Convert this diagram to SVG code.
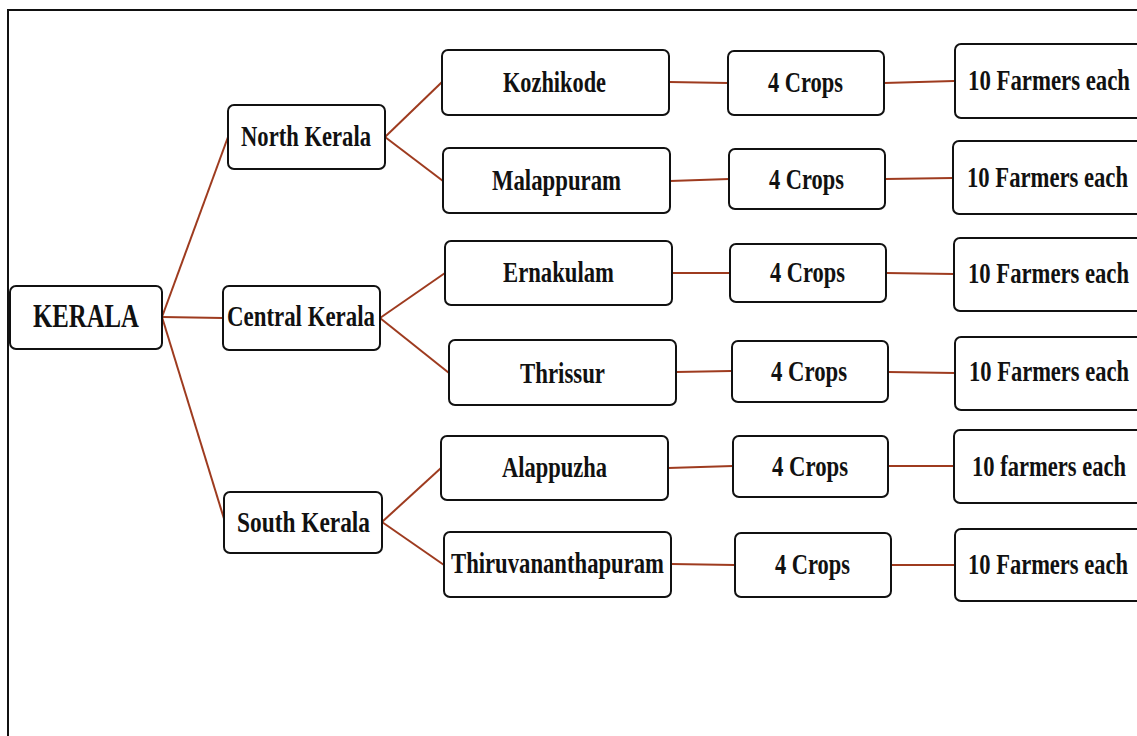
<svg xmlns="http://www.w3.org/2000/svg" width="1137" height="736" viewBox="0 0 1137 736">
<style>
.b{fill:#fff;stroke:#111;stroke-width:2}
.t{font-family:"Liberation Serif","Times New Roman",serif;font-weight:bold;font-size:29px;fill:#111}
.k{font-size:33px}
#connectors line{stroke:#9e3b1f;stroke-width:2}
</style>
<rect x="0" y="0" width="1137" height="736" fill="#fff"/>
<rect x="8" y="10" width="1140" height="740" fill="none" stroke="#111" stroke-width="2"/>
<g id="connectors">
<line x1="162" y1="317" x2="228" y2="137"/>
<line x1="162" y1="317" x2="223" y2="318"/>
<line x1="162" y1="317" x2="225" y2="522"/>
<line x1="385" y1="137" x2="442" y2="82"/>
<line x1="385" y1="137" x2="443" y2="181"/>
<line x1="380" y1="318" x2="445" y2="273"/>
<line x1="380" y1="318" x2="449" y2="373"/>
<line x1="382" y1="522" x2="441" y2="468"/>
<line x1="382" y1="522" x2="444" y2="565"/>
<line x1="669" y1="82" x2="728" y2="83"/>
<line x1="884" y1="83" x2="954" y2="81"/>
<line x1="670" y1="181" x2="729" y2="179"/>
<line x1="885" y1="179" x2="953" y2="178"/>
<line x1="672" y1="273" x2="730" y2="273"/>
<line x1="886" y1="273" x2="954" y2="274"/>
<line x1="676" y1="372" x2="731" y2="371"/>
<line x1="888" y1="372" x2="955" y2="373"/>
<line x1="668" y1="468" x2="733" y2="466"/>
<line x1="888" y1="466" x2="954" y2="466"/>
<line x1="671" y1="564" x2="735" y2="565"/>
<line x1="891" y1="565" x2="955" y2="565"/>
</g>
<g id="kerala"><rect class="b" x="10" y="286" width="152" height="63" rx="6"/><text class="t k" x="33" y="327" textLength="106" lengthAdjust="spacingAndGlyphs">KERALA</text></g>
<g id="north"><rect class="b" x="228" y="105" width="157" height="64" rx="6"/><text class="t" x="241" y="146" textLength="130" lengthAdjust="spacingAndGlyphs">North Kerala</text></g>
<g id="central"><rect class="b" x="223" y="286" width="157" height="64" rx="6"/><text class="t" x="227" y="326" textLength="148" lengthAdjust="spacingAndGlyphs">Central Kerala</text></g>
<g id="south"><rect class="b" x="224" y="492" width="158" height="61" rx="6"/><text class="t" x="237" y="532" textLength="133" lengthAdjust="spacingAndGlyphs">South Kerala</text></g>
<g id="kozhikode"><rect class="b" x="442" y="50" width="227" height="65" rx="6"/><text class="t" x="503" y="92" textLength="103" lengthAdjust="spacingAndGlyphs">Kozhikode</text></g>
<g id="malappuram"><rect class="b" x="443" y="148" width="227" height="65" rx="6"/><text class="t" x="492" y="190" textLength="129" lengthAdjust="spacingAndGlyphs">Malappuram</text></g>
<g id="ernakulam"><rect class="b" x="445" y="241" width="227" height="64" rx="6"/><text class="t" x="503" y="282" textLength="111" lengthAdjust="spacingAndGlyphs">Ernakulam</text></g>
<g id="thrissur"><rect class="b" x="449" y="340" width="227" height="65" rx="6"/><text class="t" x="520" y="383" textLength="85" lengthAdjust="spacingAndGlyphs">Thrissur</text></g>
<g id="alappuzha"><rect class="b" x="441" y="436" width="227" height="64" rx="6"/><text class="t" x="502" y="477" textLength="105" lengthAdjust="spacingAndGlyphs">Alappuzha</text></g>
<g id="thiruvananthapuram"><rect class="b" x="444" y="532" width="227" height="65" rx="6"/><text class="t" x="451" y="573" textLength="213" lengthAdjust="spacingAndGlyphs">Thiruvananthapuram</text></g>
<g id="crops1"><rect class="b" x="728" y="51" width="156" height="64" rx="6"/><text class="t" x="768" y="92" textLength="75" lengthAdjust="spacingAndGlyphs">4 Crops</text></g>
<g id="crops2"><rect class="b" x="729" y="149" width="156" height="60" rx="6"/><text class="t" x="769" y="189" textLength="75" lengthAdjust="spacingAndGlyphs">4 Crops</text></g>
<g id="crops3"><rect class="b" x="730" y="244" width="156" height="58" rx="6"/><text class="t" x="770" y="282" textLength="75" lengthAdjust="spacingAndGlyphs">4 Crops</text></g>
<g id="crops4"><rect class="b" x="732" y="341" width="156" height="61" rx="6"/><text class="t" x="771" y="381" textLength="76" lengthAdjust="spacingAndGlyphs">4 Crops</text></g>
<g id="crops5"><rect class="b" x="733" y="436" width="155" height="61" rx="6"/><text class="t" x="772" y="476" textLength="76" lengthAdjust="spacingAndGlyphs">4 Crops</text></g>
<g id="crops6"><rect class="b" x="735" y="533" width="156" height="64" rx="6"/><text class="t" x="775" y="574" textLength="75" lengthAdjust="spacingAndGlyphs">4 Crops</text></g>
<g id="farmers1"><rect class="b" x="955" y="44" width="200" height="74" rx="6"/><text class="t" x="968" y="90" textLength="162" lengthAdjust="spacingAndGlyphs">10 Farmers each</text></g>
<g id="farmers2"><rect class="b" x="953" y="141" width="200" height="73" rx="6"/><text class="t" x="967" y="187" textLength="161" lengthAdjust="spacingAndGlyphs">10 Farmers each</text></g>
<g id="farmers3"><rect class="b" x="954" y="238" width="200" height="73" rx="6"/><text class="t" x="968" y="283" textLength="161" lengthAdjust="spacingAndGlyphs">10 Farmers each</text></g>
<g id="farmers4"><rect class="b" x="955" y="337" width="200" height="73" rx="6"/><text class="t" x="969" y="381" textLength="160" lengthAdjust="spacingAndGlyphs">10 Farmers each</text></g>
<g id="farmers5"><rect class="b" x="954" y="430" width="200" height="73" rx="6"/><text class="t" x="972" y="476" textLength="154" lengthAdjust="spacingAndGlyphs">10 farmers each</text></g>
<g id="farmers6"><rect class="b" x="955" y="529" width="200" height="72" rx="6"/><text class="t" x="968" y="574" textLength="160" lengthAdjust="spacingAndGlyphs">10 Farmers each</text></g>
</svg>
